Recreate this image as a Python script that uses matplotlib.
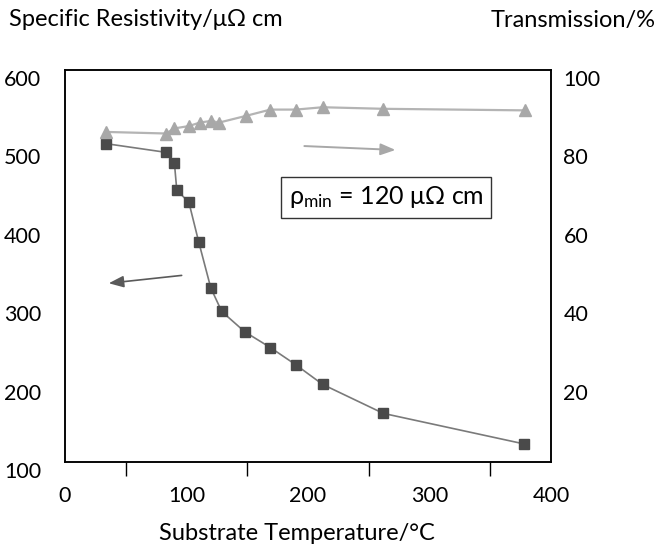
import matplotlib
matplotlib.use("Agg")
import matplotlib.pyplot as plt
import matplotlib.transforms as mtransforms

plt.rcParams['font.family'] = ['Lato', 'DejaVu Sans']
plt.rcParams['mathtext.fontset'] = 'custom'
plt.rcParams['mathtext.rm'] = 'Lato'
plt.rcParams['mathtext.it'] = 'Lato:italic'

# Data
res_temp = [34, 83, 90, 92, 102, 110, 120, 129, 148, 169, 190, 212, 262, 378]
resistivity = [506, 495, 482, 447, 431, 381, 322, 292, 266, 246, 224, 199, 162, 123]
tr_temp = [34, 83, 90, 102, 111, 120, 127, 149, 169, 190, 212, 262, 379]
transmission = [84.2, 83.8, 85.1, 85.7, 86.6, 87.0, 86.6, 88.3, 89.9, 89.9, 90.5, 90.1, 89.7]

x_labels = [0, 100, 200, 300, 400]
x_minor = [50, 100, 150, 200, 250, 300, 350]
yl_labels = [100, 200, 300, 400, 500, 600]
yl_minor = [200, 300, 400, 500]
yr_labels = [20, 40, 60, 80, 100]

fig = plt.figure(figsize=(6.63, 5.48), dpi=100)
ax = fig.add_axes([65/663, 1-462/548, (551-65)/663, (462-70)/548])
ax2 = ax.twinx()

fs = 15.5
fl = 17

ax.plot(res_temp, resistivity, color='#7a7a7a', lw=1.2, marker='s', ms=6.8,
        mfc='#4a4a4a', mec='#4a4a4a', zorder=3)
ax2.plot(tr_temp, transmission, color='#b4b4b4', lw=1.6, marker='^', ms=8,
         mfc='#a8a8a8', mec='#a8a8a8', zorder=3)

ax.set_xlim(0, 400)
ax.set_ylim(100, 600)
ax2.set_ylim(0, 100)

ax.set_xticks(x_labels)
ax.set_xticklabels([str(v) for v in x_labels], fontsize=fs)
ax.set_xticks(x_minor, minor=True)
ax.tick_params(axis='x', which='major', length=0, pad=17)
ax.tick_params(axis='x', which='minor', length=10, width=1, direction='out', color='black')

ax.set_yticks(yl_labels)
ax.set_yticklabels([str(v) for v in yl_labels], fontsize=fs)
ax.set_yticks(yl_minor, minor=True)
ax.tick_params(axis='y', which='major', length=0, pad=17)
ax.tick_params(axis='y', which='minor', length=3, width=1, direction='out')

ax2.set_yticks(yr_labels)
ax2.set_yticklabels([str(v) for v in yr_labels], fontsize=fs)
ax2.tick_params(axis='y', which='major', length=0, pad=9)

off = mtransforms.ScaledTranslation(0, -8/100, fig.dpi_scale_trans)
for lab in ax.get_yticklabels() + ax2.get_yticklabels():
    lab.set_transform(lab.get_transform() + off)

for a in (ax, ax2):
    for s in a.spines.values():
        s.set_linewidth(1.1)
        s.set_color('black')

# arrows
ax2.annotate('', xy=(272, 79.6), xytext=(197, 80.6),
             arrowprops=dict(arrowstyle='-|>,head_length=0.9,head_width=0.35',
                             color='#a8a8a8', lw=1.4, shrinkA=0, shrinkB=0))
ax.annotate('', xy=(36, 328), xytext=(96, 338),
            arrowprops=dict(arrowstyle='-|>,head_length=0.9,head_width=0.35',
                            color='#5a5a5a', lw=1.2, shrinkA=0, shrinkB=0))

ax.text(264.5, 438, 'ρ$_{\\mathrm{min}}$' + ' = 120 μΩ cm', fontsize=18,
        ha='center', va='center',
        bbox=dict(boxstyle='square,pad=0.3', fc='white', ec='#333333', lw=1))

fig.text(9/663, 1-20/548, 'Specific Resistivity/μΩ cm', fontsize=fl, ha='left', va='center')
fig.text(656/663, 1-20/548, 'Transmission/%', fontsize=fl, ha='right', va='center')
fig.text(297/663, 1-534/548, 'Substrate Temperature/°C', fontsize=fl, ha='center', va='center')

fig.savefig('out.png', dpi=100)
